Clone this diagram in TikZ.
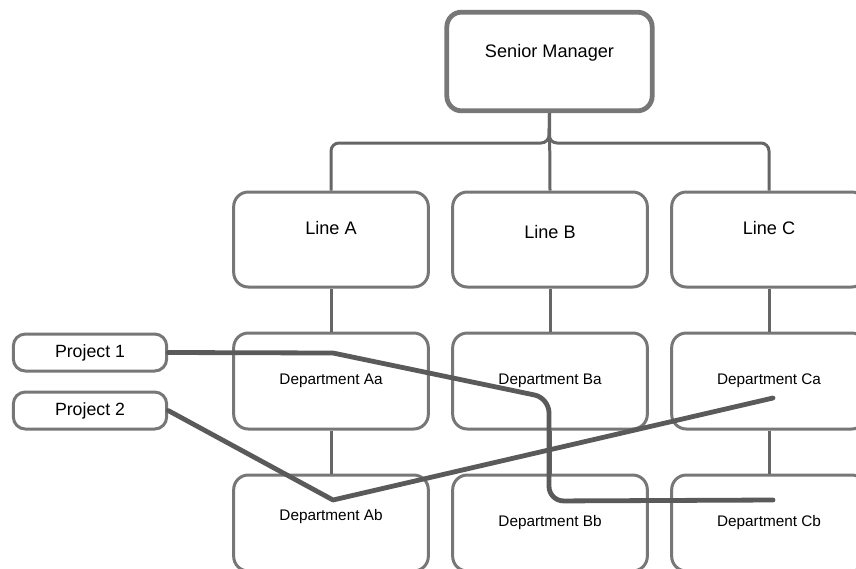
\documentclass[tikz,border=0pt]{standalone}
\usepackage{fontspec}
\setmainfont{Liberation Sans}
\usepackage{tikz}
\definecolor{frame}{HTML}{777777}
\definecolor{wire}{HTML}{666666}
\definecolor{ink}{HTML}{5A5A5A}
\tikzset{
  box/.style={
    draw=frame,
    fill=white,
    line width=2.25pt,
    rounded corners=11pt,
    inner sep=0pt,
    minimum width=146pt,
    minimum height=71.25pt,
    font=\fontsize{13.6}{16}\selectfont,
  },
  dept/.style={box, minimum height=72pt, font=\fontsize{11.5}{13}\selectfont},
  proj/.style={box, rounded corners=9pt, minimum width=115pt, minimum height=27.75pt, font=\fontsize{13.3}{15}\selectfont},
  boss/.style={box, line width=3.6pt, minimum width=154pt, minimum height=74pt},
  link/.style={draw=wire, line width=2.25pt, rounded corners=6pt},
  thread/.style={draw=ink, line width=3.6pt, line cap=round, line join=round},
}

\begin{document}
\begin{tikzpicture}[x=0.75pt,y=-0.75pt]
  \useasboundingbox (0,0) rectangle (856,568);

  % Senior manager
  \node[boss, text depth=15.7pt] (boss) at (549.5,61.5) {Senior Manager};

  % Lines
  \node[box, text depth=17.9pt] (lineA) at (331,239.5) {Line A};
  \node[box, text depth=11.9pt] (lineB) at (550,239.5) {Line B};
  \node[box, text depth=17.9pt] (lineC) at (769,239.5) {Line C};

  % Departments
  \node[dept] (depAa) at (331,381) {Department Aa};
  \node[dept] (depBa) at (550,381) {Department Ba};
  \node[dept] (depCa) at (769,381) {Department Ca};
  \node[dept, text depth=12pt] (depAb) at (331,523) {Department Ab};
  \node[dept] (depBb) at (550,523) {Department Bb};
  \node[dept] (depCb) at (769,523) {Department Cb};

  % Projects
  \node[proj] (prj1) at (90,352.5) {Project 1};
  \node[proj] (prj2) at (90,410.5) {Project 2};

  % tree
  \draw[link] (boss.south) -- (549,143) -| (lineA.north);
  \draw[link] (boss.south) -- (549,143) -| (lineC.north);
  \draw[link] (boss.south) -- (lineB.north);
  \draw[link] (lineA.south) -- (depAa.north);
  \draw[link] (lineB.south) -- (depBa.north);
  \draw[link] (lineC.south) -- (depCa.north);
  \draw[link] (depAa.south) -- (depAb.north);
  \draw[link] (depBa.south) -- (depBb.north);
  \draw[link] (depCa.south) -- (depCb.north);

  % project threads
  \coordinate (endCb) at (773,500);
  \coordinate (endCa) at (773,398);
  \draw[thread] (prj1.east) -- (333,353)
    [rounded corners=11pt] -- (549,398) -- (549,501) -- (endCb);
  \draw[thread] (prj2.east) -- (333,500) -- (endCa);
\end{tikzpicture}
\end{document}
